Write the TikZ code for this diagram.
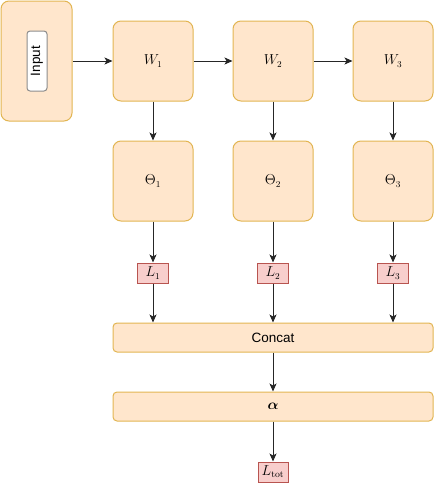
\documentclass[tikz,border=0pt]{standalone}
\usepackage{amsmath}
\usepackage{fontspec}
\setsansfont{Liberation Sans}
\usetikzlibrary{arrows.meta}

\definecolor{blockFill}{HTML}{FFE6CC}
\definecolor{blockDraw}{HTML}{E2B552}
\definecolor{lossFill}{HTML}{F8CECC}
\definecolor{lossDraw}{HTML}{B85450}

\begin{document}
\begin{tikzpicture}
    [ x=1pt, y=-1pt,
      block/.style={draw=blockDraw, fill=blockFill, line width=1pt, rounded corners=8pt, minimum width=80pt, minimum height=80pt, inner sep=0pt},
      wideBlock/.style={draw=blockDraw, fill=blockFill, line width=1pt, rounded corners=4pt, minimum width=320pt, minimum height=29pt, inner sep=0pt},
      inputBlock/.style={draw=blockDraw, fill=blockFill, line width=1pt, rounded corners=8pt, minimum width=71pt, minimum height=120pt, inner sep=0pt},
      inputTag/.style={draw=black!45, fill=white, line width=1pt, rounded corners=3pt, minimum width=60pt, minimum height=20pt, inner sep=0pt, rotate=90, font=\sffamily\fontsize{13.5}{16}\selectfont},
      lossBox/.style={draw=lossDraw, fill=lossFill, line width=1pt, minimum width=31pt, minimum height=20pt, inner sep=0pt},
      arrow/.style={black!85, line width=1pt, -{Stealth[length=8pt, width=7pt, inset=2pt]}}]

  \fontsize{13.5}{16}\selectfont%

  \useasboundingbox (0,0) rectangle (436,485);

%%%%%%%%%%%%%%%%%%%%%%%%%%%%%%%%%%%%%%%%%%%%%%%%%%%%%%%%%%%%%%%%%%%%%%%%%%%%%%%%%%%%%%%%%%%%%%%%%%%%%%%%%%
%weights and parameters
	  \node[inputBlock] (input) at (36.5, 61) {};
	  \node[inputTag]   (inputTag) at (37, 61) {Input};

	  \node[block] (W1) at (153, 61) {$W_1$};
	  \node[block] (W2) at (273, 61) {$W_2$};
	  \node[block] (W3) at (393, 61) {$W_3$};

	  \node[block] (Theta1) at (153, 181) {$\Theta_1$};
	  \node[block] (Theta2) at (273, 181) {$\Theta_2$};
	  \node[block] (Theta3) at (393, 181) {$\Theta_3$};

%%%%%%%%%%%%%%%%%%%%%%%%%%%%%%%%%%%%%%%%%%%%%%%%%%%%%%%%%%%%%%%%%%%%%%%%%%%%%%%%%%%%%%%%%%%%%%%%%%%%%%%%%%
%losses and combination
	  \node[lossBox] (L1) at (153, 273) {$L_1$};
	  \node[lossBox] (L2) at (273, 273) {$L_2$};
	  \node[lossBox] (L3) at (393, 273) {$L_3$};

	  \node[wideBlock, font=\sffamily\fontsize{13.5}{16}\selectfont] (concat) at (273, 337.5) {Concat};
	  \node[wideBlock] (alpha) at (273, 406.5) {$\boldsymbol{\alpha}$};
	  \node[lossBox, minimum width=30pt] (Ltot) at (273, 472) {$L_{\text{tot}}$};

%%%%%%%%%%%%%%%%%%%%%%%%%%%%%%%%%%%%%%%%%%%%%%%%%%%%%%%%%%%%%%%%%%%%%%%%%%%%%%%%%%%%%%%%%%%%%%%%%%%%%%%%%%
%connectors
	  \draw[arrow] (input) -- (W1);
	  \draw[arrow] (W1) -- (W2);
	  \draw[arrow] (W2) -- (W3);

	  \draw[arrow] (W1) -- (Theta1);
	  \draw[arrow] (W2) -- (Theta2);
	  \draw[arrow] (W3) -- (Theta3);

	  \draw[arrow] (Theta1) -- (L1);
	  \draw[arrow] (Theta2) -- (L2);
	  \draw[arrow] (Theta3) -- (L3);

	  \draw[arrow] (L1) -- (L1 |- concat.north);
	  \draw[arrow] (L2) -- (L2 |- concat.north);
	  \draw[arrow] (L3) -- (L3 |- concat.north);

	  \draw[arrow] (concat) -- (alpha);
	  \draw[arrow] (alpha) -- (Ltot);

\end{tikzpicture}
\end{document}
